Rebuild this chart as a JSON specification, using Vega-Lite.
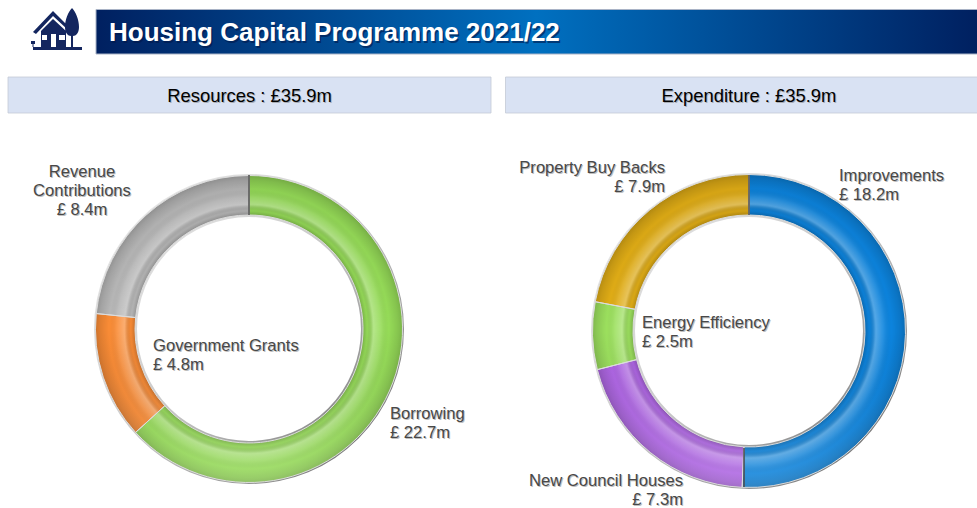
{"$schema":"https://vega.github.io/schema/vega-lite/v6.json","width":977,"height":508,"padding":0,"autosize":{"type":"none"},"background":"white","config":{"view":{"stroke":null},"axis":{"disable":true},"legend":{"disable":true},"text":{"font":"Liberation Sans","baseline":"alphabetic"}},
"datasets":{"resources":[{"seq":1,"segment":"Borrowing","value":22.7,"lines":["Borrowing","£ 22.7m"]},{"seq":2,"segment":"Government Grants","value":4.8,"lines":["Government Grants","£ 4.8m"]},{"seq":3,"segment":"Revenue Contributions","value":8.4,"lines":["Revenue","Contributions","£ 8.4m"]}],
"expenditure":[{"seq":1,"segment":"Improvements","value":18.2,"lines":["Improvements","£ 18.2m"]},{"seq":2,"segment":"New Council Houses","value":7.3,"lines":["New Council Houses","£ 7.3m"]},{"seq":3,"segment":"Energy Efficiency","value":2.5,"lines":["Energy Efficiency","£ 2.5m"]},{"seq":4,"segment":"Property Buy Backs","value":7.9,"lines":["Property Buy Backs","£ 7.9m"]}],
"one":[{"title":"Housing Capital Programme 2021/22"}],"heads":[{"head":"Resources : £35.9m"},{"head":"Expenditure : £35.9m"}]},
"layer":[
{"data":{"name":"one"},"mark":{"type":"rect","stroke":"#a9b3c6","strokeWidth":1,"color":{"gradient":"linear","x1":0,"x2":1,"y1":0,"y2":0,"stops":[{"offset":0,"color":"#002060"},{"offset":0.5,"color":"#0070c0"},{"offset":1,"color":"#002060"}]}},"encoding":{"x":{"datum":96,"type":"quantitative","scale":{"domain":[0,977],"nice":false,"zero":false}},"x2":{"datum":978},"y":{"datum":9.5,"type":"quantitative","scale":{"domain":[508,0],"nice":false,"zero":false}},"y2":{"datum":54}}},
{"data":{"name":"one"},"mark":{"type":"point","filled":true,"opacity":1,"size":2916,"color":"#14265f","shape":"M-0.815,0.63L1,0.63L1,0.741L-0.815,0.741Z M-0.815,0.074L-0.074,-0.704L0.444,-0.185L0.444,-0.037L-0.074,-0.519L-0.704,0.148Z M-0.519,0.037L-0.074,-0.407L0.407,0.037L0.407,0.63L-0.519,0.63Z M0.63,-0.815C0.778,-0.667 0.889,-0.37 0.889,-0.111C0.889,0.111 0.778,0.222 0.667,0.222L0.667,0.63L0.593,0.63L0.593,0.222C0.481,0.222 0.37,0.111 0.37,-0.111C0.37,-0.37 0.481,-0.667 0.63,-0.815Z M-0.889,0.407L-0.741,0.407L-0.741,0.519L-0.796,0.519L-0.796,0.63L-0.833,0.63L-0.833,0.519L-0.889,0.519Z"},"encoding":{"x":{"datum":55,"type":"quantitative"},"y":{"datum":30,"type":"quantitative"}}},
{"data":{"name":"one"},"mark":{"type":"point","filled":true,"opacity":1,"size":2916,"color":"#ffffff","shape":"M-0.481,0.185L-0.296,0.185L-0.296,0.37L-0.481,0.37Z M-0.148,0.148L0.037,0.148L0.037,0.63L-0.148,0.63Z M0.148,0.185L0.37,0.185L0.37,0.37L0.148,0.37Z"},"encoding":{"x":{"datum":55,"type":"quantitative"},"y":{"datum":30,"type":"quantitative"}}},
{"data":{"name":"one"},"encoding":{"x":{"datum":109,"type":"quantitative"},"y":{"datum":41,"type":"quantitative"},"text":{"field":"title"}},"layer":[{"mark":{"type":"text","align":"left","baseline":"alphabetic","font":"Liberation Sans","fontWeight":"bold","fontSize":26,"color":"#00184a","opacity":0.6,"dx":1.5,"dy":1.5}},{"mark":{"type":"text","align":"left","baseline":"alphabetic","font":"Liberation Sans","fontWeight":"bold","fontSize":26,"color":"#ffffff"}}]},
{"data":{"name":"heads"},"transform":[{"filter":"datum.head == 'Resources : £35.9m'"}],"encoding":{"x":{"datum":8,"type":"quantitative"},"x2":{"datum":491},"y":{"datum":77,"type":"quantitative"},"y2":{"datum":113}},"mark":{"type":"rect","fill":"#d9e2f3","stroke":"#c4cad6","strokeWidth":0.8}},
{"data":{"name":"heads"},"transform":[{"filter":"datum.head == 'Expenditure : £35.9m'"}],"encoding":{"x":{"datum":505.5,"type":"quantitative"},"x2":{"datum":978},"y":{"datum":77,"type":"quantitative"},"y2":{"datum":113}},"mark":{"type":"rect","fill":"#d9e2f3","stroke":"#c4cad6","strokeWidth":0.8}},
{"data":{"name":"heads"},"transform":[{"filter":"datum.head == 'Resources : £35.9m'"}],"encoding":{"x":{"datum":249.5,"type":"quantitative"},"y":{"datum":102,"type":"quantitative"},"text":{"field":"head"}},"layer":[{"mark":{"type":"text","baseline":"alphabetic","fontSize":18.4,"color":"#777777","opacity":0.5,"dx":1,"dy":1}},{"mark":{"type":"text","baseline":"alphabetic","fontSize":18.4,"color":"#000000"}}]},
{"data":{"name":"heads"},"transform":[{"filter":"datum.head == 'Expenditure : £35.9m'"}],"encoding":{"x":{"datum":749,"type":"quantitative"},"y":{"datum":102,"type":"quantitative"},"text":{"field":"head"}},"layer":[{"mark":{"type":"text","baseline":"alphabetic","fontSize":18.4,"color":"#777777","opacity":0.5,"dx":1,"dy":1}},{"mark":{"type":"text","baseline":"alphabetic","fontSize":18.4,"color":"#000000"}}]},

{"data":{"name":"one"},"encoding":{"x":{"datum":249,"type":"quantitative"},"y":{"datum":329,"type":"quantitative"}},"layer":[
{"mark":{"type":"arc","theta":0,"theta2":6.2832,"radius":155,"radius2":112,"fill":{"gradient":"linear","x1":0,"y1":0,"x2":1,"y2":1,"stops":[{"offset":0,"color":"#f2f2f2"},{"offset":0.5,"color":"#c8c8c8"},{"offset":1,"color":"#5e5e5e"}]}}}
]},
{"data":{"name":"resources"},"encoding":{"x":{"datum":249,"type":"quantitative"},"y":{"datum":329,"type":"quantitative"},"theta":{"field":"value","type":"quantitative","scale":{"domain":[0,35.9]}},"order":{"field":"seq"}},"layer":[
{"mark":{"type":"arc","radius":153.5,"radius2":114},"encoding":{"fill":{"field":"segment","type":"nominal","legend":null,"scale":{"domain":["Borrowing","Government Grants","Revenue Contributions","Improvements","New Council Houses","Energy Efficiency","Property Buy Backs"],"range":["#96dc58","#fa8c36","#b8b8b8","#0c84de","#b066e6","#9ce05e","#e2ae16"]}}}}
]},
{"data":{"name":"one"},"encoding":{"x":{"datum":249,"type":"quantitative"},"y":{"datum":329,"type":"quantitative"}},"layer":[
{"mark":{"type":"arc","theta":0,"theta2":6.2832,"radius":153.5,"radius2":114,"fill":{"gradient":"radial","x1":0.5,"y1":0.5,"r1":0,"x2":0.5,"y2":0.5,"r2":0.5,"stops":[{"offset":0.74,"color":"rgba(0,0,0,0.2)"},{"offset":0.77,"color":"rgba(0,0,0,0.02)"},{"offset":0.81,"color":"rgba(255,255,255,0.3)"},{"offset":0.86,"color":"rgba(255,255,255,0.1)"},{"offset":0.91,"color":"rgba(0,0,0,0)"},{"offset":0.97,"color":"rgba(0,0,0,0.1)"},{"offset":1,"color":"rgba(0,0,0,0.18)"}]}}},
{"mark":{"type":"arc","theta":0,"theta2":6.2832,"radius":153.5,"radius2":114,"fill":{"gradient":"linear","x1":0,"y1":0,"x2":0,"y2":1,"stops":[{"offset":0,"color":"rgba(0,0,0,0.06)"},{"offset":0.5,"color":"rgba(0,0,0,0)"},{"offset":1,"color":"rgba(255,255,255,0.16)"}]}}}
]},
{"data":{"name":"resources"},"encoding":{"x":{"datum":249,"type":"quantitative"},"y":{"datum":329,"type":"quantitative"},"theta":{"field":"value","type":"quantitative"},"order":{"field":"seq"}},"layer":[
{"mark":{"type":"arc","radius":153.5,"radius2":114,"fillOpacity":0,"stroke":"#dcdcdc","strokeWidth":1}}
]},

{"data":{"name":"one"},"encoding":{"x":{"datum":749,"type":"quantitative"},"y":{"datum":331,"type":"quantitative"}},"layer":[
{"mark":{"type":"arc","theta":0,"theta2":6.2832,"radius":158,"radius2":114,"fill":{"gradient":"linear","x1":0,"y1":0,"x2":1,"y2":1,"stops":[{"offset":0,"color":"#f2f2f2"},{"offset":0.5,"color":"#c8c8c8"},{"offset":1,"color":"#5e5e5e"}]}}}
]},
{"data":{"name":"expenditure"},"encoding":{"x":{"datum":749,"type":"quantitative"},"y":{"datum":331,"type":"quantitative"},"theta":{"field":"value","type":"quantitative"},"order":{"field":"seq"}},"layer":[
{"mark":{"type":"arc","radius":156.5,"radius2":116},"encoding":{"fill":{"field":"segment","type":"nominal","legend":null}}}
]},
{"data":{"name":"one"},"encoding":{"x":{"datum":749,"type":"quantitative"},"y":{"datum":331,"type":"quantitative"}},"layer":[
{"mark":{"type":"arc","theta":0,"theta2":6.2832,"radius":156.5,"radius2":116,"fill":{"gradient":"radial","x1":0.5,"y1":0.5,"r1":0,"x2":0.5,"y2":0.5,"r2":0.5,"stops":[{"offset":0.74,"color":"rgba(0,0,0,0.2)"},{"offset":0.77,"color":"rgba(0,0,0,0.02)"},{"offset":0.81,"color":"rgba(255,255,255,0.3)"},{"offset":0.86,"color":"rgba(255,255,255,0.1)"},{"offset":0.91,"color":"rgba(0,0,0,0)"},{"offset":0.97,"color":"rgba(0,0,0,0.1)"},{"offset":1,"color":"rgba(0,0,0,0.18)"}]}}},
{"mark":{"type":"arc","theta":0,"theta2":6.2832,"radius":156.5,"radius2":116,"fill":{"gradient":"linear","x1":0,"y1":0,"x2":0,"y2":1,"stops":[{"offset":0,"color":"rgba(0,0,0,0.06)"},{"offset":0.5,"color":"rgba(0,0,0,0)"},{"offset":1,"color":"rgba(255,255,255,0.16)"}]}}}
]},
{"data":{"name":"expenditure"},"encoding":{"x":{"datum":749,"type":"quantitative"},"y":{"datum":331,"type":"quantitative"},"theta":{"field":"value","type":"quantitative"},"order":{"field":"seq"}},"layer":[
{"mark":{"type":"arc","radius":156.5,"radius2":116,"fillOpacity":0,"stroke":"#dcdcdc","strokeWidth":1}}
]},
{"data":{"name":"one"},"mark":{"type":"rule","color":"#4a4a4a","strokeWidth":1.5},"encoding":{"x":{"datum":249,"type":"quantitative"},"y":{"datum":175,"type":"quantitative"},"y2":{"datum":215}}},
{"data":{"name":"one"},"mark":{"type":"rule","color":"#4a4a4a","strokeWidth":1.5},"encoding":{"x":{"datum":749,"type":"quantitative"},"y":{"datum":175,"type":"quantitative"},"y2":{"datum":215}}},
{"data":{"name":"one"},"mark":{"type":"rule","color":"#4a4a4a","strokeWidth":1.5},"encoding":{"x":{"datum":744,"type":"quantitative"},"y":{"datum":448,"type":"quantitative"},"y2":{"datum":487}}},

{"data":{"name":"resources"},"transform":[{"filter":"datum.seq == 1"}],"encoding":{"x":{"datum":390,"type":"quantitative"},"y":{"datum":419,"type":"quantitative"},"text":{"field":"lines"}},"layer":[{"mark":{"type":"text","align":"left","baseline":"alphabetic","fontSize":16.6,"lineHeight":19,"color":"#8a8a8a","opacity":0.55,"dx":1,"dy":1}},{"mark":{"type":"text","align":"left","baseline":"alphabetic","fontSize":16.6,"lineHeight":19,"color":"#484848"}}]},
{"data":{"name":"resources"},"transform":[{"filter":"datum.seq == 2"}],"encoding":{"x":{"datum":153,"type":"quantitative"},"y":{"datum":351,"type":"quantitative"},"text":{"field":"lines"}},"layer":[{"mark":{"type":"text","align":"left","baseline":"alphabetic","fontSize":16.6,"lineHeight":19,"color":"#8a8a8a","opacity":0.55,"dx":1,"dy":1}},{"mark":{"type":"text","align":"left","baseline":"alphabetic","fontSize":16.6,"lineHeight":19,"color":"#484848"}}]},
{"data":{"name":"resources"},"transform":[{"filter":"datum.seq == 3"}],"encoding":{"x":{"datum":82,"type":"quantitative"},"y":{"datum":177,"type":"quantitative"},"text":{"field":"lines"}},"layer":[{"mark":{"type":"text","align":"center","baseline":"alphabetic","fontSize":16.6,"lineHeight":19,"color":"#8a8a8a","opacity":0.55,"dx":1,"dy":1}},{"mark":{"type":"text","align":"center","baseline":"alphabetic","fontSize":16.6,"lineHeight":19,"color":"#484848"}}]},
{"data":{"name":"expenditure"},"transform":[{"filter":"datum.seq == 1"}],"encoding":{"x":{"datum":839,"type":"quantitative"},"y":{"datum":181,"type":"quantitative"},"text":{"field":"lines"}},"layer":[{"mark":{"type":"text","align":"left","baseline":"alphabetic","fontSize":16.6,"lineHeight":19,"color":"#8a8a8a","opacity":0.55,"dx":1,"dy":1}},{"mark":{"type":"text","align":"left","baseline":"alphabetic","fontSize":16.6,"lineHeight":19,"color":"#484848"}}]},
{"data":{"name":"expenditure"},"transform":[{"filter":"datum.seq == 2"}],"encoding":{"x":{"datum":683,"type":"quantitative"},"y":{"datum":486,"type":"quantitative"},"text":{"field":"lines"}},"layer":[{"mark":{"type":"text","align":"right","baseline":"alphabetic","fontSize":16.6,"lineHeight":18.5,"color":"#8a8a8a","opacity":0.55,"dx":1,"dy":1}},{"mark":{"type":"text","align":"right","baseline":"alphabetic","fontSize":16.6,"lineHeight":18.5,"color":"#484848"}}]},
{"data":{"name":"expenditure"},"transform":[{"filter":"datum.seq == 3"}],"encoding":{"x":{"datum":642,"type":"quantitative"},"y":{"datum":328,"type":"quantitative"},"text":{"field":"lines"}},"layer":[{"mark":{"type":"text","align":"left","baseline":"alphabetic","fontSize":16.6,"lineHeight":19,"color":"#8a8a8a","opacity":0.55,"dx":1,"dy":1}},{"mark":{"type":"text","align":"left","baseline":"alphabetic","fontSize":16.6,"lineHeight":19,"color":"#484848"}}]},
{"data":{"name":"expenditure"},"transform":[{"filter":"datum.seq == 4"}],"encoding":{"x":{"datum":665,"type":"quantitative"},"y":{"datum":173,"type":"quantitative"},"text":{"field":"lines"}},"layer":[{"mark":{"type":"text","align":"right","baseline":"alphabetic","fontSize":16.6,"lineHeight":19,"color":"#8a8a8a","opacity":0.55,"dx":1,"dy":1}},{"mark":{"type":"text","align":"right","baseline":"alphabetic","fontSize":16.6,"lineHeight":19,"color":"#484848"}}]}
]}
